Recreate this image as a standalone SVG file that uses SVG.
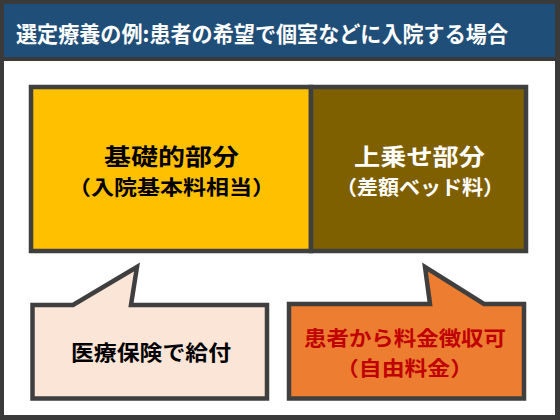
<svg xmlns="http://www.w3.org/2000/svg" width="560" height="420" viewBox="0 0 560 420">
<style>
text { font-family: "Noto Sans CJK JP", "Liberation Sans", sans-serif; font-weight: 700; }
.box { stroke: #3F3F3F; stroke-width: 4.5; }
.callout { stroke: #3F3F3F; stroke-width: 4.5; stroke-linejoin: miter; }
.mid { text-anchor: middle; }
</style>
<rect x="0" y="0" width="560" height="420" fill="#3A3A3A"/>
<g id="title">
<rect x="4" y="4" width="551" height="53" fill="#1F4E79"/>
<text x="16" y="41.5" font-size="22" fill="#FFFFFF" textLength="492" lengthAdjust="spacingAndGlyphs">選定療養の例:患者の希望で個室などに入院する場合</text>
</g>
<rect x="4" y="61" width="551" height="354" fill="#FFFFFF"/>
<g id="basic">
<rect class="box" x="31" y="87" width="280" height="164" fill="#FFC000"/>
<text class="mid" x="171.5" y="164.5" font-size="23" fill="#000000" textLength="135" lengthAdjust="spacingAndGlyphs">基礎的部分</text>
<text class="mid" x="171.5" y="195" font-size="20" fill="#000000" textLength="207" lengthAdjust="spacingAndGlyphs">（入院基本料相当）</text>
</g>
<g id="extra">
<rect class="box" x="311" y="87" width="215" height="164" fill="#7F6000"/>
<text class="mid" x="419.5" y="164.5" font-size="23" fill="#FFFFFF" textLength="131" lengthAdjust="spacingAndGlyphs">上乗せ部分</text>
<text class="mid" x="420" y="195" font-size="20" fill="#FFFFFF" textLength="168" lengthAdjust="spacingAndGlyphs">（差額ベッド料）</text>
</g>
<g id="connectors"></g>
<g id="insurance">
<path class="callout" d="M32.5,305 L73,305 L137,267 L131,305 L267,305 L267,398.5 L32.5,398.5 Z" fill="#FBE5D6"/>
<text class="mid" x="151" y="359.5" font-size="21" fill="#000000" textLength="160" lengthAdjust="spacingAndGlyphs">医療保険で給付</text>
</g>
<g id="patient">
<path class="callout" d="M289,304 L430,304 L425,267 L484,304 L524,304 L524,398.5 L289,398.5 Z" fill="#ED7D31"/>
<text class="mid" x="405" y="346" font-size="20.5" fill="#C00000" textLength="202" lengthAdjust="spacingAndGlyphs">患者から料金徴収可</text>
<text class="mid" x="404.5" y="376" font-size="20" fill="#C00000" textLength="137" lengthAdjust="spacingAndGlyphs">（自由料金）</text>
</g>
</svg>
